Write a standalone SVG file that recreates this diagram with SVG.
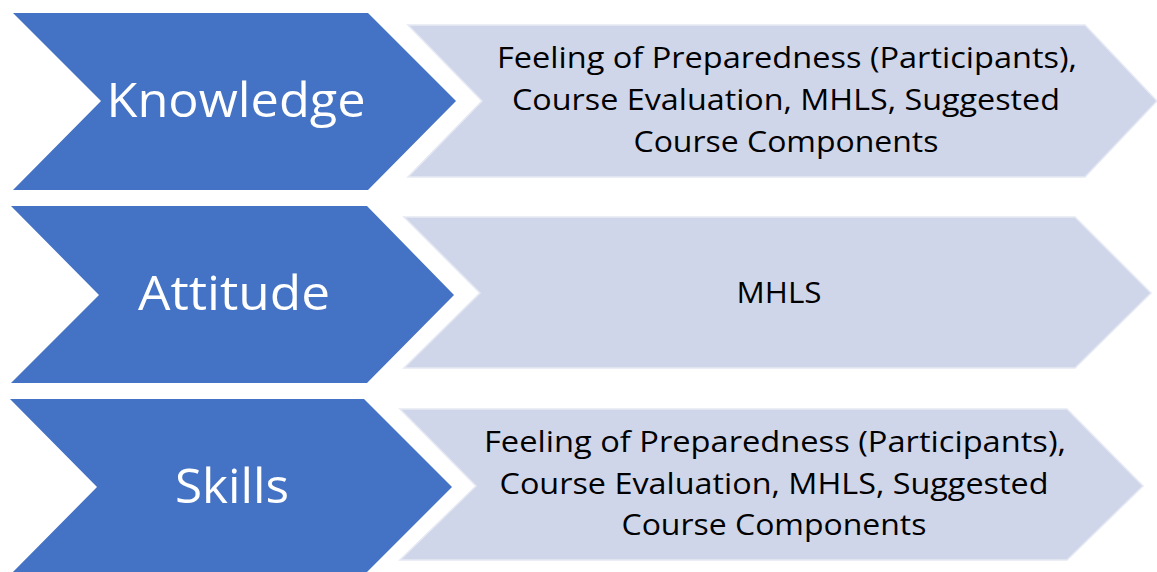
<svg xmlns="http://www.w3.org/2000/svg" width="1157" height="572" viewBox="0 0 1157 572">
  <style>
    .dark { fill: #4472C4; }
    .light { fill: #D0D6EA; stroke: #E6E9F4; stroke-width: 1.5; }
    .head { font-family: "Open Sans", "Liberation Sans", sans-serif; font-size: 48px; fill: #FFFFFF; text-anchor: middle; }
    .body { font-family: "Open Sans", "Liberation Sans", sans-serif; font-size: 30px; fill: #000000; text-anchor: middle; }
  </style>
  <rect width="1157" height="572" fill="#FFFFFF"/>

  <!-- Row 1: Knowledge -->
  <g id="knowledge">
    <polygon class="dark" points="13,13 368,13 456,101 368,190 13,190 101,101"/>
    <text class="head" x="236" y="117" textLength="259" lengthAdjust="spacingAndGlyphs">Knowledge</text>
  </g>
  <g id="knowledge-measures">
    <polygon class="light" points="408,25 1085,25 1157,101 1085,177 408,177 482,101"/>
    <text class="body" x="787" y="68" textLength="580" lengthAdjust="spacingAndGlyphs">Feeling of Preparedness (Participants),</text>
    <text class="body" x="786" y="110" textLength="548" lengthAdjust="spacingAndGlyphs">Course Evaluation, MHLS, Suggested</text>
    <text class="body" x="786" y="152" textLength="305" lengthAdjust="spacingAndGlyphs">Course Components</text>
  </g>

  <!-- Row 2: Attitude -->
  <g id="attitude">
    <polygon class="dark" points="11,206 367,206 454,295 367,383 11,383 99,295"/>
    <text class="head" x="234" y="310" textLength="192" lengthAdjust="spacingAndGlyphs">Attitude</text>
  </g>
  <g id="attitude-measures">
    <polygon class="light" points="404,217 1075,217 1151,293 1075,368 404,368 480,293"/>
    <text class="body" x="779" y="303" textLength="85" lengthAdjust="spacingAndGlyphs">MHLS</text>
  </g>

  <!-- Row 3: Skills -->
  <g id="skills">
    <polygon class="dark" points="10,399 364,399 452,487 364,575 10,575 97,487"/>
    <text class="head" x="232" y="503" textLength="114" lengthAdjust="spacingAndGlyphs">Skills</text>
  </g>
  <g id="skills-measures">
    <polygon class="light" points="400,409 1067,409 1143,486 1067,560 400,560 476,486"/>
    <text class="body" x="775" y="452" textLength="582" lengthAdjust="spacingAndGlyphs">Feeling of Preparedness (Participants),</text>
    <text class="body" x="774" y="494" textLength="549" lengthAdjust="spacingAndGlyphs">Course Evaluation, MHLS, Suggested</text>
    <text class="body" x="774" y="535" textLength="305" lengthAdjust="spacingAndGlyphs">Course Components</text>
  </g>
</svg>
